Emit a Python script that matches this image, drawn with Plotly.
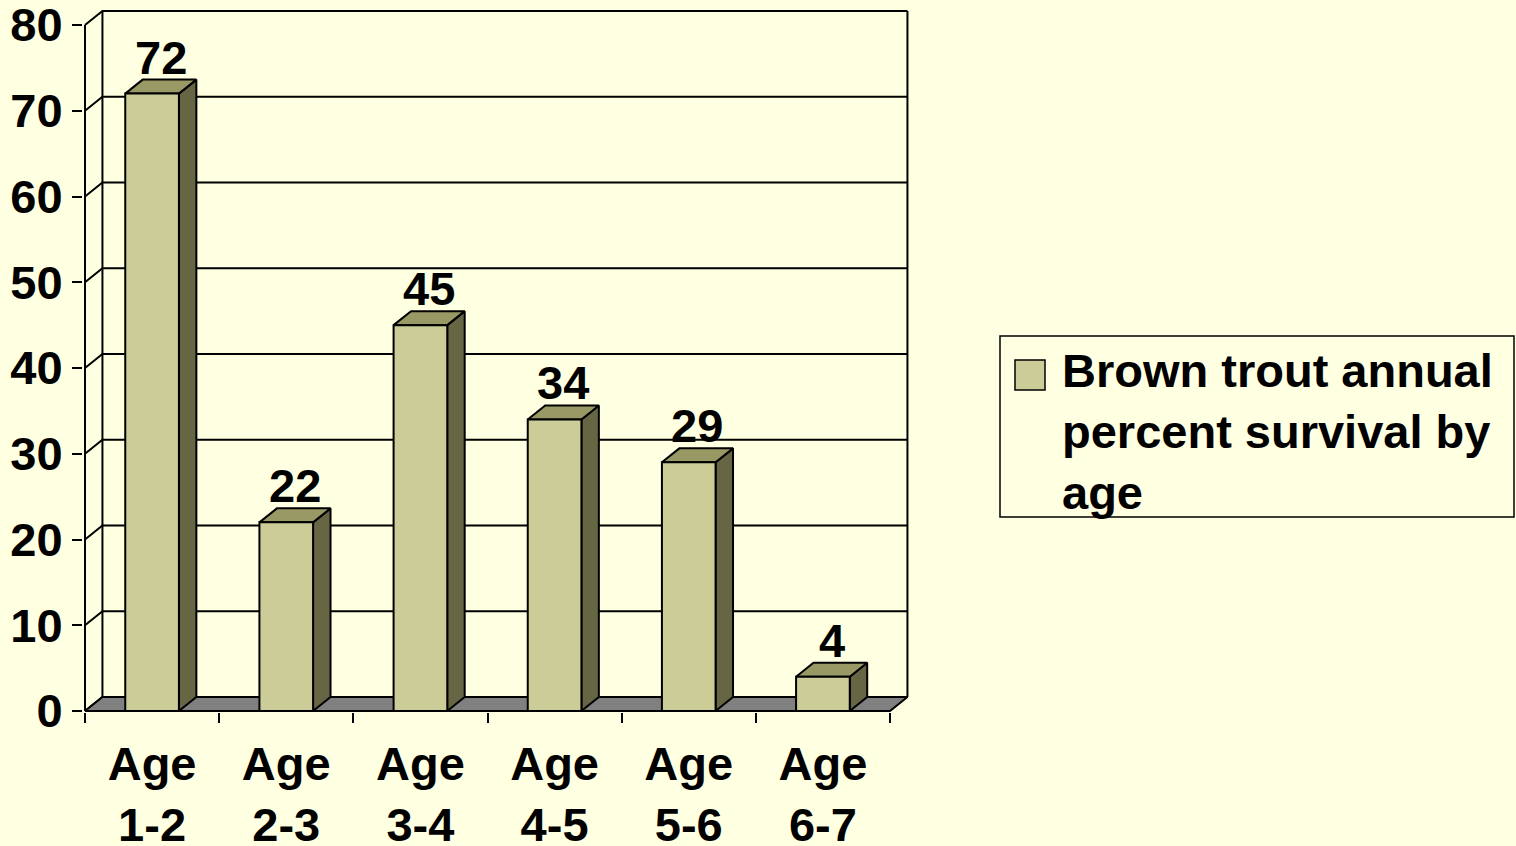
import plotly.graph_objects as go

# ---- data ----
categories = ["Age<br>1-2", "Age<br>2-3", "Age<br>3-4", "Age<br>4-5", "Age<br>5-6", "Age<br>6-7"]
values = [72, 22, 45, 34, 29, 4]
y_ticks = [0, 10, 20, 30, 40, 50, 60, 70, 80]
series_name = "Brown trout annual<br>percent survival by<br>age"

# ---- style ----
BG = "#FFFFE1"
FRONT = "#CCCC99"
TOP = "#999966"
SIDE = "#666644"
FLOOR = "#808080"
FONT = dict(family="Liberation Sans, Arial, sans-serif", size=47, color="black", weight="bold")
LW = 2

DX, DY = 0.13, 1.63   # 3-D depth offset (x in category units, y in value units)
HW = 0.2              # half width of bar front
n = len(values)
x0, x1 = -0.5, n - 0.5
ymax = y_ticks[-1]

W, H = 1516, 846
ML, MR, MT, MB = 83, 606, 10, 134
PW, PH = W - ML - MR, H - MT - MB
PXX = 805 / 6.0
xr = [x0 - (85 - ML) / PXX, x0 - (85 - ML) / PXX + PW / PXX]
PXY = 686 / 80.0
yr = [-(H - MB - 711) / PXY, -(H - MB - 711) / PXY + PH / PXY]


def px(xp):
    return (xp - ML) / PW


def py(yp):
    return (H - MB - yp) / PH


fig = go.Figure()

# back wall / side wall gridlines
gx, gy = [], []
for t in y_ticks:
    gx += [x0, x0 + DX, x1 + DX, None]
    gy += [t, t + DY, t + DY, None]
gx += [x0 + DX, x0 + DX, None, x1 + DX, x1 + DX, None, x0, x0]
gy += [DY, ymax + DY, None, DY, ymax + DY, None, 0, ymax]
fig.add_trace(go.Scatter(x=gx, y=gy, mode="lines", line=dict(color="black", width=LW),
                         hoverinfo="skip", showlegend=False))

# floor
fig.add_trace(go.Scatter(x=[x0, x0 + DX, x1 + DX, x1, x0], y=[0, DY, DY, 0, 0],
                         fill="toself", fillcolor=FLOOR, mode="lines",
                         line=dict(color="black", width=LW), hoverinfo="skip", showlegend=False))

# bars
for i, v in enumerate(values):
    l, r = i - HW, i + HW
    side_x = [r, r + DX, r + DX, r, r]
    side_y = [0, DY, v + DY, v, 0]
    top_x = [l, r, r + DX, l + DX, l]
    top_y = [v, v, v + DY, v + DY, v]
    front_x = [l, r, r, l, l]
    front_y = [0, 0, v, v, 0]
    for xs, ys, c in [(side_x, side_y, SIDE), (top_x, top_y, TOP), (front_x, front_y, FRONT)]:
        fig.add_trace(go.Scatter(x=xs, y=ys, fill="toself", fillcolor=c, mode="lines",
                                 line=dict(color="black", width=LW), hoverinfo="skip",
                                 name=series_name.replace("<br>", " "), showlegend=False))

# data labels
annotations = [
    dict(x=i + DX / 2, y=v + DY, xref="x", yref="y", text=str(v), showarrow=False,
         xanchor="center", yanchor="bottom", yshift=-6, font=FONT)
    for i, v in enumerate(values)
]

# legend (box, swatch, text)
shapes = [
    dict(type="rect", xref="paper", yref="paper", x0=px(1000), x1=px(1514), y0=py(517), y1=py(336),
         line=dict(color="black", width=1.5), fillcolor=BG, layer="below"),
    dict(type="rect", xref="paper", yref="paper", x0=px(1015), x1=px(1045), y0=py(390), y1=py(360),
         line=dict(color="black", width=1.5), fillcolor=FRONT),
]
annotations.append(
    dict(xref="paper", yref="paper", x=px(1060), y=py(432), xanchor="left", yanchor="middle",
         text=series_name, align="left", showarrow=False, font=FONT)
)

fig.update_layout(
    width=W, height=H,
    margin=dict(l=ML, r=MR, t=MT, b=MB, autoexpand=False),
    paper_bgcolor=BG, plot_bgcolor=BG,
    font=FONT,
    showlegend=False,
    shapes=shapes,
    annotations=annotations,
    xaxis=dict(range=xr, tickmode="array", tickvals=list(range(n)), ticktext=categories,
               ticks="", showgrid=False, zeroline=False, showline=False, tickfont=FONT,
               automargin=False, ticklabelstandoff=20, ticklabeloverflow="allow",
               minor=dict(tickmode="array", tickvals=[k - 0.5 for k in range(n + 1)],
                          ticks="outside", ticklen=10, tickwidth=LW, tickcolor="black",
                          showgrid=False)),
    yaxis=dict(range=yr, tickmode="array", tickvals=y_ticks, ticks="outside", ticklen=10,
               tickwidth=LW, tickcolor="black", showgrid=False, zeroline=False,
               showline=False, tickfont=FONT, automargin=False, ticklabeloverflow="allow",
               ticklabelstandoff=0),
)

fig.write_html("out.html")
